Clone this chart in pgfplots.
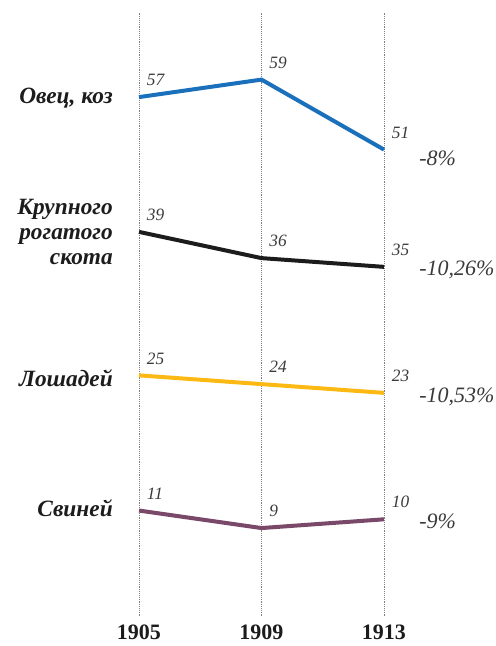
\documentclass[border=0pt]{standalone}
\usepackage{pgfplots}
\usepackage{pgfplotstable}
\pgfplotsset{compat=1.18}
\usepackage{fontspec}
\setmainfont{Liberation Serif}
\definecolor{cblue}{HTML}{1A70BA}
\definecolor{cblack}{HTML}{1C1C1C}
\definecolor{cyellow}{HTML}{FDB913}
\definecolor{cpurple}{HTML}{7A4868}
\definecolor{clab}{HTML}{3A3A3A}
\pgfplotstableread{
year v
1905 57
1909 59
1913 51
}\sheep
\pgfplotstableread{
year v
1905 39
1909 36
1913 35
}\cattle
\pgfplotstableread{
year v
1905 25
1909 24
1913 23
}\horses
\pgfplotstableread{
year v
1905 11
1909 9
1913 10
}\pigs
\begin{document}
\begin{tikzpicture}
\begin{axis}[
  scale only axis, width=183.75pt, height=452.25pt,
  xmin=1905, xmax=1913, ymin=0, ymax=68.914,
  clip=false,
  axis line style={draw=none},
  major tick length=0pt,
  ytick=\empty,
  xtick={1905,1909,1913},
  xticklabels={1905,1909,1913},
  xmajorgrids,
  grid style={densely dotted, gray, line width=0.6pt},
  xticklabel style={font=\bfseries\fontsize{16.5}{16.5}\selectfont, color=cblack, inner sep=0pt, yshift=-6.5pt},
  every axis plot/.append style={line width=3pt},
  nodes near coords,
  point meta=explicit symbolic,
  every node near coord/.append style={font=\itshape\fontsize{13}{13}\selectfont, color=clab, anchor=base west, inner sep=0pt, xshift=4.5pt, yshift=8.5pt},
]
\addplot[cblue] table[x=year, y expr=\thisrow{v}+2.3, meta=v] {\sheep};
\addplot[cblack] table[x=year, y expr=\thisrow{v}+4.9, meta=v] {\cattle};
\addplot[cyellow] table[x=year, y expr=\thisrow{v}+2.5, meta=v] {\horses};
\addplot[cpurple] table[x=year, y expr=\thisrow{v}+1.05, meta=v] {\pigs};

\tikzset{serlab/.style={anchor=east, align=right, inner sep=0pt, color=cblack, font=\bfseries\itshape\fontsize{17.5}{18.75}\selectfont},
         pct/.style={anchor=west, inner sep=0pt, color=clab, font=\itshape\fontsize{16.5}{16.5}\selectfont}}
\node[serlab] at (axis cs:1904.151,59.2) {Овец, коз};
\node[serlab] at (axis cs:1904.151,43.83) {Крупного\\рогатого\\скота};
\node[serlab] at (axis cs:1904.151,27.2) {Лошадей};
\node[serlab] at (axis cs:1904.151,12.34) {Свиней};
\node[pct] at (axis cs:1914.143,52.34) {-8\%};
\node[pct] at (axis cs:1914.143,39.54) {-10,26\%};
\node[pct] at (axis cs:1914.143,25.03) {-10,53\%};
\node[pct] at (axis cs:1914.143,10.86) {-9\%};
\coordinate (tl) at (axis cs:1900.461,70.4);
\coordinate (br) at (axis cs:1916.657,-3.43);
\end{axis}
\pgfresetboundingbox
\path[use as bounding box] (tl) rectangle (br);
\end{tikzpicture}
\end{document}
